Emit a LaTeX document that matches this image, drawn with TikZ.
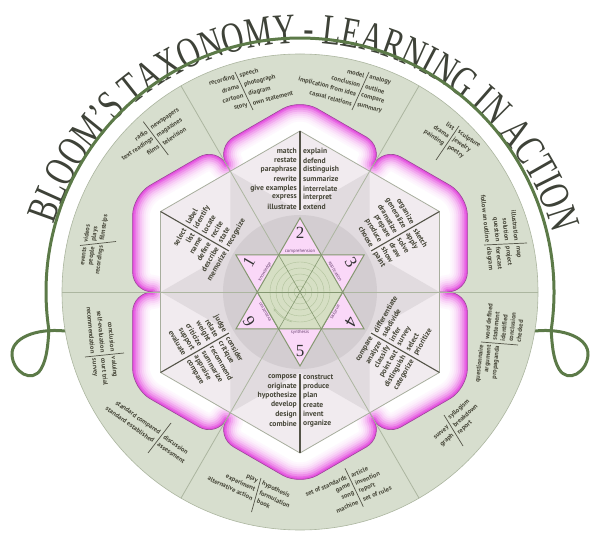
\documentclass[tikz,border=0pt]{standalone}
\usepackage{fontspec}
\setsansfont{PT Sans}
\newfontfamily\titlefont{Liberation Serif}[FakeStretch=0.71]
\newfontfamily\numfont{Liberation Serif}
\usetikzlibrary{calc,decorations.text,arrows.meta}
\definecolor{sage}{RGB}{215,222,206}
\definecolor{sageline}{RGB}{172,182,160}
\definecolor{frame}{RGB}{92,122,72}
\definecolor{hexfill}{RGB}{241,235,239}
\definecolor{hexgrey}{RGB}{225,219,223}
\definecolor{hexedge}{RGB}{168,174,158}
\definecolor{discgrey}{RGB}{211,205,209}
\definecolor{pmag}{RGB}{226,64,220}
\definecolor{pedge}{RGB}{150,84,146}
\definecolor{starpink}{RGB}{250,216,248}
\definecolor{stargreen}{RGB}{214,223,196}
\definecolor{starline}{RGB}{132,152,112}
\definecolor{circlec}{RGB}{176,194,156}
\definecolor{wordc}{RGB}{70,70,56}
\definecolor{divc}{RGB}{84,84,72}
\definecolor{titlec}{RGB}{62,66,56}
\definecolor{labc}{RGB}{104,64,112}

\newcommand\kitetext[7]{%
  \foreach \w [count=\i from 0] in {#6}{%
    \pgfmathsetmacro\rr{#4+#5*\i}%
    \node[kword, rotate=#3, anchor=east] (#1L\i) at (#2:\rr) {\w};}%
  \foreach \w [count=\i from 0] in {#7}{%
    \pgfmathsetmacro\rr{#4+#5*\i}%
    \node[kword, rotate=#3, anchor=west] (#1R\i) at (#2:\rr) {\w};}%
}
\newcommand\ogroup[9]{%
  \coordinate (#1a) at (#2); \coordinate (#1b) at (#3);
  \draw[odiv] (#1a) -- (#1b);
  \foreach \w [count=\i from 0] in {#8}{%
    \pgfmathsetmacro\dd{#4+#6*\i}%
    \node[oword, rotate=#7, anchor=east] (#1L\i) at ($(#1a)!\dd pt!(#1b)$) {\w};}%
  \foreach \w [count=\i from 0] in {#9}{%
    \pgfmathsetmacro\dd{#5+#6*\i}%
    \node[oword, rotate=#7, anchor=west] (#1R\i) at ($(#1a)!\dd pt!(#1b)$) {\w};}%
}

\begin{document}
\begin{tikzpicture}[x=1pt,y=1pt,
  kword/.style={font=\sffamily\bfseries\fontsize{7.6}{8}\selectfont, text=wordc, inner ysep=0pt, inner xsep=3pt},
  oword/.style={font=\sffamily\bfseries\fontsize{6.5}{7}\selectfont, text=wordc, inner ysep=0pt, inner xsep=2.5pt},
  odiv/.style={draw=divc, line width=0.7},
  kdiv/.style={draw=divc, line width=1.1},
  numstyle/.style={font=\numfont\fontsize{17}{17}\selectfont, text=black!80, inner sep=0pt},
  labstyle/.style={font=\sffamily\fontsize{4.6}{5}\selectfont, text=labc, inner sep=0.5pt}]
\useasboundingbox (0,0) rectangle (600,-545);
\fill[white] (0,0) rectangle (600,-545);

% title
\path[decorate, decoration={text along path, text color=titlec,
  text={|\titlefont\fontsize{43}{43}\selectfont|BLOOM’S TAXONOMY - LEARNING IN ACTION},
  text align=center}]
  (302,-304) ++(172:261) arc[start angle=172, end angle=6, radius=261];

% frame with curls
\draw[frame, line width=3, line cap=round]
  (65,-331) .. controls (36,-328) and (11,-338) .. (12,-355)
  .. controls (13,-372) and (32,-384) .. (41,-369)
  .. controls (47,-359) and (48,-344) .. (48.9,-330)
  arc[start angle=188.6, end angle=-8.6, radius=254]
  .. controls (552,-344) and (553,-359) .. (559,-369)
  .. controls (568,-384) and (587,-372) .. (588,-355)
  .. controls (589,-338) and (564,-328) .. (535,-331);

\begin{scope}[shift={(300,-292)}]
  % outer disc
  \fill[sage, draw=sageline, line width=0.6] (0,0) circle[radius=238];
  % petals
  \foreach \p in {90,30,-30,-90,150,210}{
    \pgfmathsetmacro\pa{\p+30}\pgfmathsetmacro\pb{\p-30}
    \coordinate (M1) at (\pa:139.4);
    \coordinate (E1) at (\pa:167.4);
    \coordinate (T) at (\p:193.3);
    \coordinate (E2) at (\pb:167.4);
    \coordinate (M2) at (\pb:139.4);
    \coordinate (V) at (\p:161);
    \coordinate (G1) at (\pa:155);
    \coordinate (G2) at (\pb:155);
    \begin{scope}
      \clip (M1) [rounded corners=20pt] -- (E1) -- (T) -- (E2) [sharp corners] -- (M2) -- (V) -- cycle;
      \fill[white] (M1) -- (E1) -- (T) -- (E2) -- (M2) -- (V) -- cycle;
      \foreach \h/\c in {17/4,15/8,13/14,11/22,9/32,7/45,5/60,3/78,1.5/92}{
        \pgfmathsetmacro\lw{2*\h}
        \draw[pmag!\c!white, line width=\lw pt, rounded corners=20pt, line join=round, line cap=round]
          (G1) -- (E1) -- (T) -- (E2) -- (G2);}
    \end{scope}
    \draw[pedge, line width=0.6, rounded corners=20pt] (M1) -- (E1) -- (T) -- (E2) -- (M2);
  }
  % big hexagon
  \fill[hexfill] (90:161) -- (30:161) -- (-30:161) -- (-90:161) -- (-150:161) -- (150:161) -- cycle;
  \fill[hexgrey] (0:139.4) -- (120:139.4) -- (240:139.4) -- cycle;
  \fill[hexgrey] (60:139.4) -- (180:139.4) -- (300:139.4) -- cycle;
  \fill[discgrey] (0,0) circle[radius=77];
  \draw[hexedge, line width=0.8] (90:161) -- (30:161) -- (-30:161) -- (-90:161) -- (-150:161) -- (150:161) -- cycle;
  % sector lines / diameters
  \foreach \a in {0,60,120}
    \draw[sageline, line width=0.8] (\a:238) -- (\a+180:238);
  % kite dividers
  \foreach \p in {90,30,-30,-90,150,210}
    \draw[kdiv] (\p:161) -- (\p:82);
  % small star
  \filldraw[fill=starpink, draw=starline, line width=1] (90:74) -- (210:74) -- (330:74) -- cycle;
  \filldraw[fill=starpink, draw=starline, line width=1] (30:74) -- (150:74) -- (270:74) -- cycle;
  \filldraw[fill=stargreen, draw=starline, line width=1] (0:42.7) -- (60:42.7) -- (120:42.7) -- (180:42.7) -- (240:42.7) -- (300:42.7) -- cycle;
  \foreach \r in {6,12,18,24,30}
    \draw[circlec, line width=0.4] (0,0) circle[radius=\r];
  \foreach \a in {0,60,120}
    \draw[starline, line width=0.6] (\a:42.7) -- (\a+180:42.7);
  \draw[circlec, line width=0.6, -{Stealth[length=3pt,width=3pt]}] (255:31) arc[start angle=255, end angle=212, radius=31];
  % numbers and labels
  \foreach \p/\n/\lab/\rot in {150/1/knowledge/60, 90/2/comprehension/0, 30/3/application/-60,
      -30/4/analysis/-120, -90/5/synthesis/0, 210/6/evaluation/120}{
    \node[numstyle, rotate=\rot] (num\n) at (\p:59) {\n};
    \node[labstyle, rotate=\rot] (lab\n) at (\p:40.5) {\lab};
  }
  % kite texts
  \kitetext{kt}{90}{0}{140.8}{-9.3}{match,restate,paraphrase,rewrite,give examples,express,illustrate}{explain,defend,distinguish,summarize,interrelate,interpret,extend}
  \kitetext{kul}{150}{60}{131.5}{-9.3}{select,list,name,define,describe,memorize}{label,identify,locate,recite,state,recognize}
  \kitetext{kur}{30}{-60}{131.5}{-9.3}{organize,generalize,dramatize,prepare,produce,choose}{sketch,apply,solve,draw,show,paint}
  \kitetext{klr}{-30}{60}{85}{9.3}{compare,analyze,classify,point out,distinguish,categorize}{differentiate,subdivide,infer,survey,select,prioritize}
  \kitetext{kb}{-90}{0}{85}{9.3}{compose,originate,hypothesize,develop,design,combine}{construct,produce,plan,create,invent,organize}
  \kitetext{kll}{210}{-60}{85}{9.3}{judge,relate,weight,criticize,support,evaluate}{consider,critique,recommend,summarize,appraise,compare}
\end{scope}

% outer word groups (image coordinates, y negated)
\ogroup{gt1}{235,-72}{253,-110}{5}{5}{10.2}{15}{recording,drama,cartoon,story}{speech,photograph,diagram,own statement}
\ogroup{gt2}{369,-72}{352,-110}{5}{5}{10.2}{-15}{model,conclusion,implication from idea,casual relations}{analogy,outline,compare,summary}
\ogroup{gur1}{459,-126}{436,-160}{5}{5}{9.2}{-34}{list,drama,painting}{sculpture,jewelry,poetry}
\ogroup{gur2}{527,-243}{484,-245}{10}{10}{9.6}{-84}{illustration,solution,question,follow an outline}{map,project,forecast,diagram}
\ogroup{gr1}{481,-342}{518,-345}{1}{5.5}{8}{84}{questionnaire,argument,propaganda}{word defined,statement,identified,conclusion,checked}
\ogroup{gbr}{444,-415}{463,-446}{12}{6}{9}{42}{survey,graph}{syllogism,breakdown,report}
\ogroup{gb2}{345,-468.3}{363.3,-506.7}{9}{9}{9}{23}{set of standards,game,song,machine}{article,invention,report,set of rules}
\ogroup{gb1}{261,-478}{251.5,-512}{4.5}{4.5}{9}{-25}{play,experiment,alternative action}{hypothesis,formulation,book}
\ogroup{gll}{171,-423}{148,-453}{15}{15}{9.8}{-35}{standard compared,standard established}{discussion,assessment}
\ogroup{gl2}{124,-353}{85,-357}{11}{11}{10}{-85}{conclusion,self-evaluation,recommendation}{valuing,court trial,survey}
\ogroup{gl1}{80,-245.5}{116,-241.5}{5}{5}{8.5}{82}{events,people,recordings}{videos,plays,filmstrips}
\ogroup{gf1}{143.3,-121.7}{168.3,-155}{10}{10}{9.6}{34}{radio,text readings,films}{newspapers,magazines,television}
\end{tikzpicture}
\end{document}
